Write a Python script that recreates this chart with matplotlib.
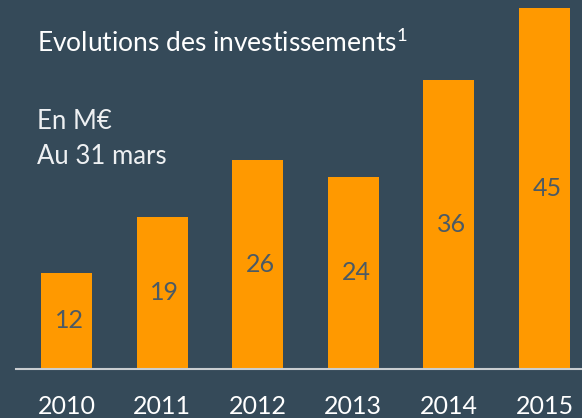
import matplotlib
matplotlib.use("Agg")
import matplotlib.pyplot as plt

plt.rcParams["mathtext.fontset"] = "custom"
plt.rcParams["mathtext.rm"] = "Lato"
plt.rcParams["mathtext.it"] = "Lato"
plt.rcParams["mathtext.bf"] = "Lato"

years = ["2010", "2011", "2012", "2013", "2014", "2015"]
values = [12, 19, 26, 24, 36, 45]
title = "Evolutions des investissements$^{\\mathrm{1}}$"
subtitle1 = "En M\u20ac"
subtitle2 = "Au 31 mars"

BG = "#354a59"
ORANGE = "#ff9900"
LABEL = "#4b5a65"
W, H = 582, 418
FONT = ["Lato", "DejaVu Sans"]

fig = plt.figure(figsize=(W / 100, H / 100), dpi=100, facecolor=BG)
ax = fig.add_axes([16 / W, (H - 369) / H, (W - 16) / W, 369 / H])
ax.set_facecolor(BG)

x = list(range(len(years)))
ax.bar(x, values, width=0.535, color=ORANGE, zorder=2)
ax.set_xlim(-0.528, -0.528 + 566 / 95.6)
ax.set_ylim(0, 369 / 8.02)

for s in ["top", "left", "right"]:
    ax.spines[s].set_visible(False)
ax.spines["bottom"].set_color("#c9cdd0")
ax.spines["bottom"].set_linewidth(1.5)
ax.spines["bottom"].set_zorder(3)
ax.set_xticks([])
ax.set_yticks([])

for xi, v, yr in zip(x, values, years):
    ax.text(xi + 0.03, v / 2, str(v), ha="center", va="center", color=LABEL,
            fontsize=18, family=FONT)
    ax.annotate(yr, xy=(xi, 0), xytext=(0, -45 * 0.72), textcoords="offset points",
                ha="center", va="baseline", color="white", fontsize=18,
                family=FONT, annotation_clip=False)

fig.text(37 / W, 1 - 52 / H, title, ha="left", va="baseline", color="white",
         fontsize=19, family=FONT)
fig.text(37 / W, 1 - 128.5 / H, subtitle1, ha="left", va="baseline", color="#eef0f2",
         fontsize=18.5, family=FONT)
fig.text(37 / W, 1 - 163.5 / H, subtitle2, ha="left", va="baseline", color="#eef0f2",
         fontsize=18.5, family=FONT)

fig.savefig("out.png", dpi=100, facecolor=BG)
